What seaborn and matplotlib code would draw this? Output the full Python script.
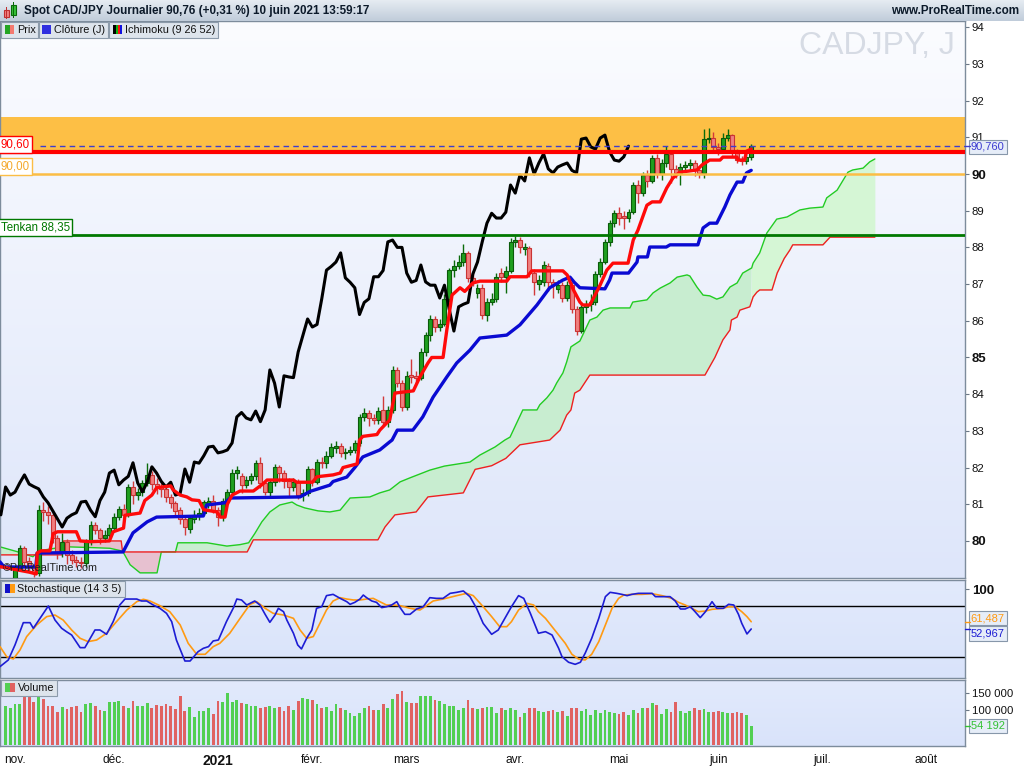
import numpy as np
import pandas as pd
import matplotlib
matplotlib.use("Agg")
import matplotlib.pyplot as plt
import matplotlib.transforms as mtransforms
from matplotlib.colors import LinearSegmentedColormap
from matplotlib.patches import Rectangle
import seaborn as sns

# ------------------------------------------------------------------ data
# trading-day index: 0 = 2 nov. 2020 ... 156 = 10 juin 2021
bar_index = list(range(-2, 157))

opens = [78.62, 78.70, 78.85, 79.26, 79.81, 79.45, 79.30, 79.12, 80.85, 80.78,
         80.71, 80.08, 79.70, 79.97, 79.62, 79.48, 79.43, 79.40, 79.97, 80.44,
         80.30, 80.08, 80.15, 80.35, 80.65, 80.87, 80.71, 81.47, 81.25, 81.33,
         81.58, 81.80, 81.55, 81.48, 81.42, 81.20, 81.04, 80.85, 80.60, 80.32,
         80.60, 80.68, 80.77, 81.02, 81.10, 80.84, 80.66, 81.10, 81.33, 81.85,
         81.78, 81.53, 81.66, 81.76, 82.13, 81.58, 81.34, 81.60, 82.02, 81.85,
         81.62, 81.47, 81.60, 81.25, 81.30, 81.96, 81.60, 82.15, 82.12, 82.32,
         82.54, 82.58, 82.40, 82.43, 82.48, 82.67, 83.38, 83.50, 83.35, 83.30,
         83.57, 83.25, 83.57, 84.66, 84.30, 83.65, 84.52, 84.50, 84.45, 85.15,
         85.60, 86.05, 85.83, 85.90, 86.60, 87.38, 87.48, 87.60, 87.85, 87.17,
         86.75, 86.90, 86.17, 86.50, 86.60, 87.30, 87.20, 87.37, 88.15, 88.20,
         87.95, 87.98, 87.30, 87.00, 87.05, 87.50, 87.06, 86.87, 86.97, 86.62,
         86.97, 86.32, 85.72, 86.38, 86.45, 86.50, 87.27, 87.60, 88.15, 88.66,
         88.93, 88.85, 88.80, 88.96, 89.70, 89.48, 89.97, 89.81, 90.44, 90.00,
         90.30, 90.55, 90.14, 90.03, 90.19, 90.25, 90.30, 90.10, 90.03, 90.95,
         90.98, 90.74, 90.68, 90.98, 91.06, 90.60, 90.40, 90.35, 90.47]

closes = [78.70, 78.85, 79.26, 79.81, 79.43, 79.30, 79.12, 80.85, 80.78, 80.71,
          80.08, 79.70, 79.97, 79.62, 79.48, 79.43, 79.40, 79.97, 80.44, 80.30,
          80.08, 80.15, 80.35, 80.65, 80.87, 80.71, 81.47, 81.25, 81.33, 81.58,
          81.80, 81.55, 81.48, 81.42, 81.20, 81.04, 80.82, 80.60, 80.38, 80.62,
          80.71, 80.77, 81.06, 81.08, 80.84, 80.66, 81.10, 81.33, 81.85, 81.93,
          81.53, 81.66, 81.76, 82.13, 81.58, 81.34, 81.60, 82.02, 81.85, 81.62,
          81.47, 81.60, 81.25, 81.30, 81.96, 81.60, 82.15, 82.12, 82.32, 82.56,
          82.58, 82.40, 82.43, 82.48, 82.67, 83.38, 83.50, 83.35, 83.30, 83.54,
          83.25, 83.57, 84.66, 84.30, 83.65, 84.50, 84.47, 84.45, 85.15, 85.60,
          86.05, 85.83, 85.90, 86.60, 87.38, 87.48, 87.60, 87.85, 87.17, 87.05,
          86.90, 86.17, 86.50, 86.60, 87.20, 87.20, 87.37, 88.15, 88.20, 88.00,
          88.00, 87.30, 87.05, 87.10, 87.52, 87.06, 86.97, 86.97, 86.62, 86.97,
          86.32, 85.72, 86.38, 86.45, 86.50, 87.27, 87.60, 88.15, 88.66, 88.93,
          88.80, 88.80, 88.96, 89.70, 89.48, 89.97, 89.81, 90.44, 90.00, 90.30,
          90.55, 90.14, 90.03, 90.19, 90.25, 90.30, 90.10, 90.03, 90.95, 90.98,
          90.74, 90.68, 90.98, 91.06, 90.60, 90.38, 90.35, 90.47, 90.76]

highs = [78.78, 78.92, 79.32, 79.88, 79.86, 79.55, 79.36, 80.98, 81.05, 80.95,
         80.80, 80.15, 80.22, 80.05, 79.75, 79.60, 79.55, 80.06, 80.55, 80.52,
         80.36, 80.30, 80.45, 80.76, 80.96, 81.02, 81.56, 81.62, 81.45, 81.66,
         82.13, 81.90, 81.72, 81.58, 81.50, 81.28, 81.10, 80.92, 80.66, 80.72,
         80.84, 80.90, 81.12, 81.20, 81.25, 80.92, 81.18, 81.42, 81.95, 82.05,
         81.85, 81.78, 81.86, 82.20, 82.30, 81.65, 81.70, 82.10, 82.08, 81.92,
         81.72, 81.72, 81.68, 81.42, 82.05, 82.00, 82.22, 82.30, 82.45, 82.66,
         82.72, 82.66, 82.52, 82.60, 82.76, 83.45, 83.62, 83.58, 83.45, 83.66,
         83.95, 83.68, 84.78, 84.75, 84.38, 84.62, 84.95, 84.62, 85.25, 85.70,
         86.15, 86.12, 86.05, 86.72, 87.45, 87.65, 87.78, 88.10, 87.90, 87.35,
         87.00, 87.00, 86.62, 86.75, 87.30, 87.45, 87.50, 88.25, 88.30, 88.28,
         88.12, 88.05, 87.40, 87.25, 87.62, 87.58, 87.15, 87.10, 87.05, 87.08,
         87.05, 86.40, 86.48, 86.58, 86.72, 87.35, 87.70, 88.22, 88.75, 89.02,
         89.10, 88.98, 89.06, 89.78, 89.85, 90.05, 90.12, 90.52, 90.55, 90.40,
         90.75, 90.62, 90.25, 90.30, 90.35, 90.42, 90.38, 90.20, 91.22, 91.25,
         91.15, 90.85, 91.12, 91.22, 91.10, 90.68, 90.50, 90.55, 90.82]

lows = [78.55, 78.62, 78.80, 79.18, 79.35, 79.15, 79.02, 79.05, 80.55, 80.45,
        79.95, 79.52, 79.55, 79.38, 79.36, 79.30, 79.26, 79.28, 79.90, 80.20,
        79.92, 79.96, 80.05, 80.26, 80.56, 80.62, 80.66, 81.02, 81.12, 81.22,
        81.50, 81.40, 81.28, 81.20, 81.05, 80.90, 80.70, 80.45, 80.16, 80.22,
        80.50, 80.58, 80.70, 80.90, 80.75, 80.40, 80.55, 81.00, 81.25, 81.70,
        81.30, 81.45, 81.55, 81.66, 81.45, 81.25, 81.22, 81.50, 81.60, 81.45,
        81.20, 81.35, 81.15, 81.10, 81.22, 81.50, 81.55, 81.98, 82.00, 82.25,
        82.40, 82.30, 82.22, 82.35, 82.40, 82.60, 83.28, 83.12, 83.18, 83.20,
        83.15, 83.10, 83.50, 84.20, 83.55, 83.58, 84.30, 84.30, 84.38, 85.05,
        85.45, 85.70, 85.72, 85.85, 86.52, 87.20, 87.40, 87.50, 87.05, 86.95,
        86.62, 86.05, 86.00, 86.42, 86.52, 87.05, 86.75, 87.30, 88.00, 87.85,
        87.80, 87.20, 86.70, 86.85, 86.95, 86.80, 86.62, 86.75, 86.50, 86.55,
        86.20, 85.62, 85.66, 86.20, 86.28, 86.42, 87.18, 87.55, 88.05, 88.55,
        88.60, 88.50, 88.70, 88.90, 89.20, 89.40, 89.65, 89.75, 89.88, 89.85,
        90.20, 89.75, 89.90, 89.70, 90.05, 90.10, 89.95, 89.88, 89.90, 90.85,
        90.62, 90.52, 90.60, 90.90, 90.50, 90.30, 90.25, 90.28, 90.38]

volume_k = [112.0, 105.6, 116.7, 116.7, 141.7, 137.0, 123.1, 141.7, 130.6, 112.0,
            112.0, 95.4, 109.3, 102.8, 109.3, 111.1, 95.4, 116.7, 119.4, 112.0,
            100.0, 98.1, 123.1, 123.1, 125.9, 112.0, 105.6, 125.9, 111.1, 111.1,
            119.4, 105.6, 113.9, 112.0, 116.7, 112.0, 102.8, 139.8, 98.1, 109.3,
            81.5, 98.1, 98.1, 105.6, 88.9, 125.0, 123.1, 150.0, 123.1, 127.8,
            121.3, 116.7, 111.1, 111.1, 105.6, 109.3, 111.1, 105.6, 109.3, 98.1,
            111.1, 100.0, 125.9, 133.3, 130.6, 127.8, 116.7, 105.6, 109.3, 98.1,
            116.7, 105.6, 100.0, 90.7, 83.3, 90.7, 107.0, 111.1, 100.0, 100.0,
            116.7, 105.6, 130.6, 147.2, 153.7, 123.1, 119.4, 119.4, 138.9, 138.9,
            138.9, 127.8, 125.0, 116.7, 111.1, 112.0, 100.0, 105.6, 127.8, 105.6,
            102.8, 105.6, 108.3, 108.3, 91.7, 105.6, 100.0, 105.6,
            100.0, 79.6, 91.7, 105.6, 105.6, 98.1, 95.4, 98.1, 100.0, 95.4,
            98.1, 83.3, 105.6, 105.6, 98.1, 102.8, 86.1, 100.0, 91.7, 100.0,
            95.4, 91.7, 88.9, 95.4, 86.1, 100.0, 91.7, 105.6, 105.6, 119.4,
            113.9, 88.9, 102.8, 95.4, 122.2, 97.2, 91.7, 97.2, 105.6, 100.0,
            102.8, 95.4, 95.4, 97.2, 94.4, 91.7, 91.7, 94.4, 91.7, 86.1,
            54.192]

# Ichimoku lines: (bar index, price)
tenkan = [(-3.2, 79.30), (3.0, 79.15), (4.5, 79.10), (4.7, 79.67), (5.5, 79.73), (7.4, 79.73),
          (8.1, 80.20), (9.0, 80.25), (13.0, 80.25), (13.8, 80.00), (16.0, 79.98), (20.0, 80.00),
          (20.8, 80.25), (23.0, 80.35), (23.3, 80.70), (26.5, 80.76), (27.5, 81.10), (29.0, 81.25),
          (30.0, 81.45), (33.0, 81.50), (33.5, 81.39), (35.0, 81.25), (36.4, 81.20), (37.5, 81.12),
          (39.0, 81.10), (40.0, 80.85), (42.8, 80.79), (43.5, 80.65), (44.5, 80.65), (45.0, 81.00),
          (46.0, 81.25), (47.7, 81.36), (50.5, 81.36), (52.5, 81.55), (53.4, 81.66), (59.0, 81.66),
          (59.7, 81.60), (63.0, 81.60), (64.0, 81.75), (67.4, 81.80), (68.9, 81.85), (69.5, 82.00),
          (72.5, 82.10), (73.0, 82.75), (73.7, 82.85), (76.7, 82.90), (77.3, 83.02), (79.4, 83.30),
          (80.5, 84.03), (84.4, 84.09), (85.8, 84.47), (87.5, 84.85), (88.3, 85.00), (90.7, 85.00),
          (91.5, 85.75), (92.6, 86.70), (94.3, 86.90), (95.3, 86.80), (97.0, 87.03), (98.5, 87.08),
          (104.2, 87.08), (104.9, 87.20), (108.5, 87.20), (109.5, 87.36), (116.1, 87.36), (117.0, 87.25),
          (118.3, 86.85), (119.7, 86.51), (120.3, 86.43), (121.8, 86.43), (122.9, 86.70), (124.0, 86.98),
          (125.4, 87.38), (126.7, 87.57), (129.9, 87.57), (131.0, 88.20), (132.0, 88.47), (133.9, 89.15),
          (135.0, 89.24), (136.7, 89.24), (138.1, 89.62), (139.4, 89.89), (140.9, 90.05), (144.5, 90.11),
          (145.6, 90.25), (147.2, 90.38), (149.4, 90.38), (150.0, 90.46), (153.0, 90.46), (153.2, 90.38),
          (154.6, 90.38), (155.0, 90.62), (156.0, 90.68)]

kijun = [(-3.2, 79.43), (-2.3, 79.29), (4.4, 79.29), (4.7, 79.67), (22.9, 79.70), (25.0, 80.22),
         (28.0, 80.52), (30.0, 80.65), (39.9, 80.68), (40.6, 80.98), (44.5, 81.04), (45.6, 81.17),
         (60.4, 81.20), (62.5, 81.35), (66.7, 81.52), (67.4, 81.62), (70.3, 81.74), (72.0, 82.00),
         (73.7, 82.29), (77.3, 82.48), (79.4, 82.70), (79.9, 82.75), (81.0, 83.02), (84.3, 83.02),
         (86.4, 83.38), (88.6, 83.92), (91.5, 84.47), (93.6, 84.85), (96.4, 85.20), (98.5, 85.53),
         (104.2, 85.61), (107.0, 85.89), (110.6, 86.43), (113.3, 86.90), (116.1, 87.11), (117.6, 87.19),
         (118.5, 87.05), (119.7, 86.90), (125.0, 86.87), (126.0, 87.11), (126.5, 87.30), (130.0, 87.30),
         (131.8, 87.60), (132.0, 87.74), (134.0, 87.74), (134.5, 88.01), (138.0, 88.01), (138.8, 88.07),
         (144.7, 88.07), (145.8, 88.53), (147.2, 88.66), (148.7, 88.66), (150.4, 89.10), (151.5, 89.43),
         (153.0, 89.78), (154.2, 89.78), (155.0, 90.03), (156.0, 90.10)]

senkou_a = [(-3.2, 79.84), (0.4, 79.71), (3.8, 79.57), (4.7, 79.67), (6.0, 79.75), (8.9, 79.81),
            (11.0, 79.84), (15.9, 79.82), (20.1, 79.80), (22.2, 79.74), (22.9, 79.70), (24.4, 79.35),
            (26.5, 79.13), (30.1, 79.13), (31.0, 79.70), (34.0, 79.70), (34.5, 79.95), (40.7, 79.95),
            (44.9, 79.86), (47.7, 79.90), (49.5, 79.95), (50.8, 80.20), (52.3, 80.52), (54.0, 80.79),
            (56.1, 80.98), (58.7, 81.06), (59.7, 80.98), (61.4, 80.90), (64.2, 80.82), (66.7, 80.79),
            (68.9, 80.84), (71.0, 81.17), (75.2, 81.20), (77.3, 81.31), (79.4, 81.39), (81.6, 81.61),
            (83.7, 81.72), (87.9, 81.93), (91.0, 82.04), (96.4, 82.15), (98.5, 82.34), (101.7, 82.56),
            (103.8, 82.75), (104.9, 82.83), (107.6, 83.57), (110.6, 83.57), (111.2, 83.71), (112.7, 83.90),
            (114.0, 84.11), (114.8, 84.31), (116.1, 84.58), (116.9, 84.88), (117.8, 85.29), (119.7, 85.45),
            (121.8, 86.02), (123.3, 86.10), (124.6, 86.29), (126.1, 86.35), (130.3, 86.35), (130.9, 86.51),
            (133.9, 86.57), (135.2, 86.76), (136.7, 86.89), (138.8, 87.03), (140.3, 87.19), (142.4, 87.25),
            (143.0, 87.22), (144.5, 86.92), (145.8, 86.70), (147.2, 86.68), (148.7, 86.59), (150.0, 86.65),
            (151.5, 86.92), (153.0, 87.03), (154.2, 87.30), (156.1, 87.44), (156.4, 87.57), (157.8, 87.85),
            (159.3, 88.39), (161.4, 88.77), (163.6, 88.83), (166.3, 89.02), (168.4, 89.07), (171.2, 89.10),
            (172.0, 89.35), (174.2, 89.56), (176.5, 90.05), (177.5, 90.11), (179.7, 90.16), (181.1, 90.33),
            (182.2, 90.41)]

senkou_b = [(-3.2, 79.62), (10.0, 79.62), (10.3, 80.00), (22.5, 80.00), (22.8, 79.70), (49.2, 79.70),
            (50.5, 80.03), (76.9, 80.03), (78.4, 80.38), (80.5, 80.71), (85.0, 80.79), (87.5, 81.20),
            (95.0, 81.31), (97.5, 81.95), (101.0, 82.05), (104.0, 82.25), (107.0, 82.62), (113.3, 82.75),
            (115.5, 83.02), (116.9, 83.43), (117.8, 83.57), (118.6, 84.03), (119.7, 84.11), (121.8, 84.52),
            (146.2, 84.52), (148.3, 85.00), (150.0, 85.48), (151.5, 85.75), (151.8, 86.02), (153.0, 86.10),
            (153.6, 86.29), (155.7, 86.38), (156.4, 86.65), (157.2, 86.78), (157.8, 86.84), (160.4, 86.84),
            (161.5, 87.30), (163.0, 87.70), (164.2, 87.93), (164.8, 88.07), (171.2, 88.07), (172.7, 88.28),
            (182.2, 88.28)]

# Stochastic (14 3 5): (bar index, value)
stoch_k = [(-3.18, 8.7), (-1.42, 16.5), (0.0, 34.2), (1.76, 60.4), (3.18, 60.4), (3.88, 53.8),
           (5.29, 65.5), (7.06, 80.0), (8.47, 63.5), (9.88, 53.8), (10.9, 49.8), (12.0, 45.9),
           (13.8, 31.0), (14.8, 31.0), (16.95, 51.8), (18.0, 51.8), (19.4, 46.7), (20.8, 61.6),
           (22.2, 81.2), (23.3, 88.2), (24.7, 88.2), (25.8, 88.2), (26.8, 85.9), (27.9, 85.9),
           (29.3, 81.2), (30.7, 77.3), (32.1, 71.4), (33.2, 61.6), (34.2, 40.0), (36.0, 15.3),
           (37.1, 15.3), (38.8, 26.3), (39.9, 30.2), (41.0, 32.2), (42.0, 38.9), (43.1, 40.0),
           (44.8, 61.6), (46.3, 78.1), (47.0, 88.2), (48.0, 87.1), (49.1, 81.2), (50.8, 85.9),
           (51.9, 81.2), (53.0, 70.2), (54.0, 60.8), (55.1, 69.4), (55.8, 77.3), (56.9, 73.3),
           (57.6, 63.5), (59.0, 47.9), (59.9, 34.2), (60.7, 29.5), (61.8, 42.0), (62.9, 51.8),
           (63.9, 77.3), (65.0, 79.2), (66.0, 92.2), (67.4, 93.7), (68.9, 89.0), (70.3, 85.1),
           (71.0, 82.0), (72.0, 84.3), (73.1, 88.2), (73.8, 92.9), (74.5, 89.8), (75.6, 85.9),
           (76.6, 84.3), (77.7, 78.1), (78.7, 79.2), (79.8, 81.2), (80.9, 85.1), (81.6, 78.1),
           (82.6, 70.2), (83.7, 70.2), (85.1, 76.5), (86.5, 79.2), (87.9, 89.8), (89.3, 89.0),
           (90.7, 89.0), (92.2, 94.9), (93.6, 96.1), (95.0, 97.7), (96.4, 91.0), (97.8, 77.3),
           (99.2, 59.6), (101.0, 46.7), (102.4, 51.8), (103.8, 65.5), (105.2, 79.2), (106.7, 92.2),
           (107.8, 89.0), (109.2, 71.4), (110.9, 47.9), (112.4, 49.8), (113.8, 45.9), (115.2, 30.2),
           (115.9, 20.4), (117.3, 13.8), (118.7, 11.4), (119.8, 13.8), (120.8, 24.3), (122.2, 42.0),
           (123.7, 65.5), (125.1, 91.0), (126.1, 96.1), (127.5, 94.9), (128.6, 93.7), (129.7, 92.2),
           (130.7, 93.7), (132.1, 94.9), (133.5, 94.9), (135.0, 94.9), (135.7, 91.0), (137.1, 91.0),
           (138.8, 91.0), (139.9, 85.9), (141.0, 76.5), (142.0, 76.5), (143.1, 79.2), (144.1, 73.3),
           (145.2, 66.3), (146.3, 73.3), (147.7, 85.1), (148.7, 77.3), (150.1, 77.3), (151.2, 82.0),
           (152.3, 81.2), (153.3, 70.2), (154.0, 59.6), (155.1, 47.1), (156.0, 52.967)]

stoch_d = [(-3.18, 32.2), (-1.77, 20.4), (-0.36, 17.7), (1.06, 28.3), (2.47, 44.0), (4.59, 57.7),
           (6.71, 67.5), (8.47, 69.4), (10.2, 63.5), (12.0, 51.8), (13.8, 42.0), (15.5, 38.1),
           (17.3, 40.0), (19.4, 47.9), (21.5, 61.6), (23.7, 75.3), (25.8, 85.1), (27.2, 87.9),
           (28.6, 85.9), (30.7, 80.4), (32.8, 73.3), (35.0, 57.7), (36.7, 36.1), (38.5, 23.2),
           (40.3, 23.2), (42.0, 32.2), (43.4, 36.1), (45.5, 47.9), (47.7, 65.5), (49.8, 82.0),
           (51.2, 85.1), (53.0, 77.3), (54.7, 71.4), (56.9, 69.4), (59.0, 65.5), (60.4, 51.8),
           (61.8, 42.0), (63.2, 44.0), (64.6, 59.6), (66.0, 75.3), (67.4, 85.9), (68.9, 89.8),
           (70.3, 88.2), (71.7, 87.1), (73.1, 87.1), (74.5, 88.2), (75.9, 89.0), (77.3, 85.1),
           (78.7, 81.2), (80.1, 81.2), (81.6, 80.4), (83.7, 77.3), (85.8, 75.3), (87.2, 80.4),
           (88.6, 85.9), (90.7, 88.2), (93.6, 92.2), (95.7, 94.9), (97.1, 92.2), (99.2, 79.2),
           (101.0, 67.5), (102.7, 55.7), (104.2, 55.7), (105.2, 61.6), (106.7, 75.3), (108.5, 83.1),
           (109.9, 81.2), (110.9, 73.3), (112.4, 65.5), (113.8, 55.7), (115.2, 45.9), (116.6, 36.1),
           (118.0, 23.2), (119.4, 17.7), (120.8, 16.5), (122.2, 23.2), (123.7, 38.1), (125.1, 57.7),
           (126.5, 77.3), (127.9, 89.0), (129.0, 92.9), (130.7, 93.7), (132.8, 93.7), (135.0, 94.5),
           (137.1, 92.2), (139.2, 89.0), (140.6, 84.3), (142.0, 81.2), (143.4, 77.3), (144.8, 73.3),
           (146.3, 74.1), (147.7, 76.1), (150.1, 77.3), (151.2, 79.2), (152.6, 79.2), (154.0, 73.3),
           (155.1, 67.5), (156.0, 61.487)]

month_pos = [0, 21, 43, 63, 83, 106, 128, 149, 171, 193]
month_labels = ['nov.', 'déc.', '2021', 'févr.', 'mars', 'avr.', 'mai', 'juin', 'juil.', 'août']
price_ticks = [94, 93, 92, 91, 90, 89, 88, 87, 86, 85, 84, 83, 82, 81, 80]
bold_price_ticks = ['90', '85', '80']
zone_low, zone_high = 90.60, 91.56
level_red, level_orange, level_green = 90.60, 90.00, 88.35
last_close, last_k, last_d, last_vol = 90.76, 52.967, 61.487, 54192
chikou_shift = 26
last_bar = 156

# ------------------------------------------------------------------ style
sns.set_theme(style="white")
plt.rcParams['font.family'] = ['Liberation Sans', 'DejaVu Sans']
plt.rcParams['axes.unicode_minus'] = False

XMIN, XMAX = -3.18, 201.3
PMIN, PMAX = 78.99, 94.17
SMIN, SMAX = -4.7, 110.6
VMIN, VMAX = -2500, 186000
BORDER = '#7d8c9c'

fig = plt.figure(figsize=(10.24, 7.68), dpi=100)
fig.patch.set_facecolor('white')


def fb(x0, y0, x1, y1):
    return [x0 / 1024, 1 - y1 / 768, (x1 - x0) / 1024, (y1 - y0) / 768]


def frect(x0, y0, x1, y1, fc, ec='none', lw=0.0, z=30):
    fig.add_artist(Rectangle((x0 / 1024, 1 - y1 / 768), (x1 - x0) / 1024, (y1 - y0) / 768,
                             transform=fig.transFigure, fc=fc, ec=ec, lw=lw, zorder=z))


def ftext(x, y, s, **kw):
    fig.text(x / 1024, 1 - y / 768, s, **kw)


def gradient(axis, bottom, top, xlim, ylim):
    cmap = LinearSegmentedColormap.from_list('g', [bottom, top])
    axis.imshow(np.linspace(0, 1, 256).reshape(-1, 1), extent=[xlim[0], xlim[1], ylim[0], ylim[1]],
                origin='lower', aspect='auto', cmap=cmap, zorder=0, interpolation='bilinear')


ax = fig.add_axes(fb(0, 21, 965, 578))
axs = fig.add_axes(fb(0, 580, 965, 678))
axv = fig.add_axes(fb(0, 680, 965, 746))
axt = fig.add_axes(fb(0, 0, 1024, 21))

# title bar
gradient(axt, '#c0ccda', '#e6ecf2', (0, 1024), (0, 21))
axt.set_xlim(0, 1024); axt.set_ylim(0, 21); axt.axis('off')

gradient(ax, '#dee6fa', '#fbfcff', (XMIN, XMAX), (PMIN, PMAX))
gradient(axs, '#d9e3fa', '#e2eafc', (XMIN, XMAX), (SMIN, SMAX))
gradient(axv, '#d9e3fa', '#e2eafc', (XMIN, XMAX), (VMIN, VMAX))

df = pd.DataFrame({'i': bar_index, 'open': opens, 'high': highs, 'low': lows,
                   'close': closes, 'volume': np.array(volume_k) * 1000})
df['up'] = df['close'] >= df['open']

# ---- cloud
a_x, a_y = map(np.array, zip(*senkou_a))
b_x, b_y = map(np.array, zip(*senkou_b))
grid = np.union1d(np.union1d(a_x, b_x), [last_bar])
A = np.interp(grid, a_x, a_y)
B = np.interp(grid, b_x, b_y)
ax.fill_between(grid, A, B, where=(A >= B) & (grid <= last_bar), interpolate=True,
                color='#c8edd0', lw=0, zorder=1.5)
ax.fill_between(grid, A, B, where=(A >= B) & (grid >= last_bar), interpolate=True,
                color='#d5f6d5', lw=0, zorder=1.5)
ax.fill_between(grid, A, B, where=(A < B), interpolate=True, color='#e7c1d0', lw=0, zorder=1.5)
sns.lineplot(x=a_x, y=a_y, ax=ax, color='#22cc22', linewidth=1.0, estimator=None, sort=False,
             legend=False, zorder=2)
sns.lineplot(x=b_x, y=b_y, ax=ax, color='#ee2020', linewidth=1.0, estimator=None, sort=False,
             legend=False, zorder=2)

# ---- zone & levels
ax.axhspan(zone_low, zone_high, color='#fdbf45', lw=0, zorder=1)

# ---- candles
up = df[df.up]
dn = df[~df.up]
ax.vlines(up.i, up.low, up.high, color='#0b6b0b', lw=1.0, zorder=3)
ax.vlines(dn.i, dn.low, dn.high, color='#d23a3a', lw=1.0, zorder=3)
ax.bar(up.i, (up.close - up.open).clip(lower=0.02), bottom=up.open, width=0.84,
       color='#1f9f1f', edgecolor='#0a5a0a', linewidth=0.8, zorder=4)
ax.bar(dn.i, (dn.open - dn.close).clip(lower=0.02), bottom=dn.close, width=0.84,
       color='#f07f7f', edgecolor='#c93434', linewidth=0.8, zorder=4)

# ---- Ichimoku lines
chikou_x = df['i'] - chikou_shift
sns.lineplot(x=chikou_x, y=df['close'], ax=ax, color='black', linewidth=2.2, estimator=None,
             sort=False, legend=False, zorder=5)
t_x, t_y = zip(*tenkan)
k_x, k_y = zip(*kijun)
sns.lineplot(x=list(k_x), y=list(k_y), ax=ax, color='#0a0ad2', linewidth=2.4, estimator=None,
             sort=False, legend=False, zorder=5)
sns.lineplot(x=list(t_x), y=list(t_y), ax=ax, color='#ff0a0a', linewidth=2.4, estimator=None,
             sort=False, legend=False, zorder=5.2)

ax.axhline(level_red, color='#ff0000', lw=3.0, zorder=6)
ax.axhline(level_orange, color='#fbbd45', lw=1.8, zorder=6)
ax.axhline(level_green, color='#007800', lw=2.0, zorder=6)
ax.hlines(last_close, 5.3, XMAX, colors='#3c3cd0', linestyles=(0, (4, 3)), lw=1.0, zorder=6)

# left level labels
ax.text(XMIN + 0.15, level_red + 0.03, '90,60', color='#ff0000', fontsize=8.3, va='bottom', ha='left',
        bbox=dict(boxstyle='square,pad=0.22', fc='white', ec='#ff0000', lw=1.0), zorder=9)
ax.text(XMIN + 0.15, level_orange + 0.03, '90,00', color='#f4a82c', fontsize=8.3, va='bottom', ha='left',
        bbox=dict(boxstyle='square,pad=0.22', fc='white', ec='#fbbd45', lw=1.0), zorder=9)
ax.text(XMIN + 0.15, level_green + 0.03, 'Tenkan 88,35', color='#007800', fontsize=8.3, va='bottom',
        ha='left', bbox=dict(boxstyle='square,pad=0.22', fc='white', ec='#007800', lw=1.0), zorder=9)

ax.text(0.989, 0.955, 'CADJPY, J', transform=ax.transAxes, fontsize=23, color='#d6dbe4',
        ha='right', va='center', zorder=1)
ax.text(0.003, 0.009, '©ProRealTime.com', transform=ax.transAxes, fontsize=7.8, color='#202020',
        ha='left', va='bottom', zorder=9)

# ---- stochastic
axs.axhline(80, color='black', lw=1.0, zorder=2)
axs.axhline(20, color='black', lw=1.0, zorder=2)
sk_x, sk_y = zip(*stoch_k)
sd_x, sd_y = zip(*stoch_d)
sns.lineplot(x=list(sd_x), y=list(sd_y), ax=axs, color='#ff9a12', linewidth=1.2, estimator=None,
             sort=False, legend=False, zorder=3)
sns.lineplot(x=list(sk_x), y=list(sk_y), ax=axs, color='#1d1dd4', linewidth=1.2, estimator=None,
             sort=False, legend=False, zorder=4)

# ---- volume
vcol = np.where(df['up'], '#52cf52', '#e06262')
axv.bar(df['i'], df['volume'], width=0.6, color=vcol, lw=0, zorder=2)

# ---- axes cosmetics
for a, (lo, hi) in ((ax, (PMIN, PMAX)), (axs, (SMIN, SMAX)), (axv, (VMIN, VMAX))):
    a.set_xlim(XMIN, XMAX)
    a.set_ylim(lo, hi)
    a.set_xlabel('')
    a.set_ylabel('')
    a.yaxis.tick_right()
    for sp in a.spines.values():
        sp.set_color(BORDER)
        sp.set_linewidth(1.0)
    a.tick_params(axis='y', direction='out', length=3, width=0.8, color='#6b7785', pad=2,
                  labelsize=8.2, labelcolor='#111111')

ax.set_xticks([]); axs.set_xticks([])
ax.set_yticks(price_ticks)
ax.set_yticklabels([str(p) for p in price_ticks])
for lbl in ax.get_yticklabels():
    if lbl.get_text() in bold_price_ticks:
        lbl.set_fontweight('bold')
        lbl.set_fontsize(9.5)

axs.set_yticks([100])
axs.set_yticklabels(['100'], fontweight='bold', fontsize=9.5)

axv.set_yticks([150000, 100000])
axv.set_yticklabels(['150 000', '100 000'])
axv.set_xticks(month_pos)
axv.set_xticklabels(month_labels)
axv.tick_params(axis='x', direction='out', length=3, width=0.8, color='#6b7785', pad=3,
                labelsize=8.6, labelcolor='#111111')
for lbl in axv.get_xticklabels():
    if lbl.get_text() == '2021':
        lbl.set_fontweight('bold')
        lbl.set_fontsize(10)


def right_box(axis, yval, text, color, fc='#e6edf8', tick_y=None):
    tr = mtransforms.blended_transform_factory(axis.transAxes, axis.transData)
    axis.text(1.006, yval, text, transform=tr, color=color, fontsize=8, va='center', ha='left',
              bbox=dict(boxstyle='square,pad=0.2', fc=fc, ec='#8797aa', lw=0.8),
              clip_on=False, zorder=20)
    ty = yval if tick_y is None else tick_y
    axis.plot([1.0, 1.005], [ty, ty], transform=tr, color=color, lw=1.0, clip_on=False, zorder=20)


right_box(ax, 90.74, '90,760', '#3c3cd0', tick_y=last_close)
right_box(axs, 65.6, '61,487', '#ff9a12', tick_y=last_d)
right_box(axs, 47.8, '52,967', '#1d1dd4', tick_y=last_k)
right_box(axv, last_vol, '54 192', '#33c233')

# ---- title & legends (figure overlay)
frect(4, 10, 9, 17, '#f08080', '#c03030', 0.8)
frect(6.2, 7, 6.8, 19, '#c03030')
frect(11, 5, 16, 15, '#36c036', '#0a6a0a', 0.8)
frect(13.2, 2, 13.8, 18, '#0a6a0a')
ftext(24, 11, 'Spot CAD/JPY Journalier 90,76 (+0,31 %) 10 juin 2021 13:59:17', fontsize=8.4,
      fontweight='bold', color='#0c1a2a', va='center', ha='left', zorder=31)
ftext(1019, 11, 'www.ProRealTime.com', fontsize=8.4, fontweight='bold', color='#0c1a2a',
      va='center', ha='right', zorder=31)

LEG_FC, LEG_EC = '#dde4ec', '#8c9bab'
# main legends
frect(1, 22, 38, 38, LEG_FC, LEG_EC, 0.8)
frect(5, 25, 9.5, 34, '#23a523'); frect(9.5, 25, 14, 34, '#f47a70')
ftext(17, 30, 'Prix', fontsize=7.8, color='#111111', va='center', ha='left', zorder=31)
frect(39, 22, 108, 38, LEG_FC, LEG_EC, 0.8)
frect(42, 25, 51, 34, '#3030e0')
ftext(54, 30, 'Clôture (J)', fontsize=7.8, color='#111111', va='center', ha='left', zorder=31)
frect(109, 22, 218, 38, LEG_FC, LEG_EC, 0.8)
frect(113, 25, 115.5, 34, '#000000'); frect(115.5, 25, 117.5, 34, '#10b010')
frect(117.5, 25, 119.5, 34, '#ff1010'); frect(119.5, 25, 122, 34, '#1010e0')
ftext(125, 30, 'Ichimoku (9 26 52)', fontsize=7.8, color='#111111', va='center', ha='left', zorder=31)

# stochastic legend
frect(0.5, 581, 125, 597, LEG_FC, LEG_EC, 0.8)
frect(5, 584, 10, 593, '#1010c8'); frect(10, 584, 15, 593, '#ff9a12')
ftext(17, 589, 'Stochastique (14 3 5)', fontsize=7.8, color='#111111', va='center', ha='left', zorder=31)

# volume legend
frect(0.5, 680, 57, 696, LEG_FC, LEG_EC, 0.8)
frect(5, 683, 10, 692, '#52cf52'); frect(10, 683, 15, 692, '#e06262')
ftext(18, 688, 'Volume', fontsize=7.8, color='#111111', va='center', ha='left', zorder=31)

fig.savefig('out.png', dpi=100, facecolor='white')
